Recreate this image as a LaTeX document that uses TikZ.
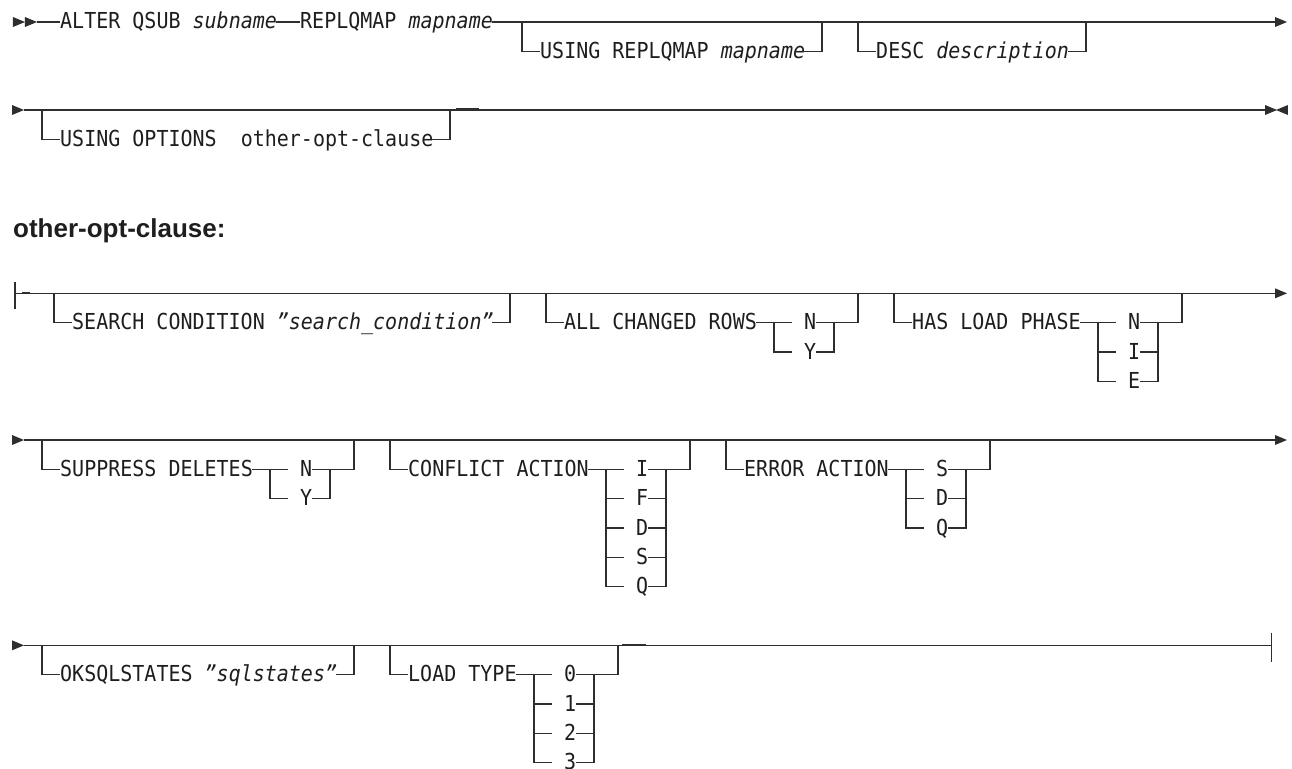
\documentclass[tikz,border=0pt]{standalone}
\usepackage{fontspec}
\setmainfont{DejaVu Sans Mono}[FakeStretch=0.909]
\setmonofont{DejaVu Sans Mono}[FakeStretch=0.909]
\newfontfamily\headfont{Liberation Sans}
\definecolor{lc}{HTML}{2E2E2E}
\definecolor{tc}{HTML}{1E1E1E}
% #1 = branch column, #2 = main row
\newcommand\optopen[2]{\draw[ln] (#1+.5,#2) -- (#1+.5,#2+1) -- (#1+2,#2+1);}
% #1 = text end column, #2 = closing column, #3 = main row
\newcommand\optclose[3]{\draw[ln] (#1,#3+1) -- (#2+.5,#3+1) -- (#2+.5,#3);}
% #1 = choice column, #2 = main row, #3 = alternatives
\newcommand\choicegrp[3]{%
  \draw[ln] (#1-1,#2+1) -- (#1+2,#2+1);
  \draw[ln] (#1+4,#2+1) -- (#1+7.5,#2+1) -- (#1+7.5,#2);
  \foreach \t [count=\i] in {#3} {%
    \node[txt] (alt-#1-\i) at (#1+3,#2+\i) {\t};
    \ifnum\i>1
      \draw[ln] (#1+.5,#2+\i-1) -- (#1+.5,#2+\i) -- (#1+2,#2+\i);
      \draw[ln] (#1+5.5,#2+\i-1) -- (#1+5.5,#2+\i) -- (#1+4,#2+\i);
    \fi
  }%
}
% right-pointing triangle: #1 = left x (col), #2 = row
\newcommand\rtri[2]{\fill[lc] (#1,#2) ++(0pt,5pt) -- ++(12pt,-5pt) -- ++(-12pt,-5pt) -- cycle;}
\newcommand\ltri[2]{\fill[lc] (#1,#2) ++(0pt,5pt) -- ++(-12pt,-5pt) -- ++(12pt,-5pt) -- cycle;}
\begin{document}
\begin{tikzpicture}[x=12pt, y=-29.3333pt,
  ln/.style={line width=1.1pt, draw=lc, line join=miter},
  txt/.style={anchor=base west, inner sep=0pt, text=tc,
    font=\fontsize{22}{26}\selectfont, yshift=-7pt}]
\useasboundingbox (0pt,0pt) rectangle (1292pt,-768pt);
\fill[white] (0pt,0pt) rectangle (1292pt,-768pt);

% ---------------- Row 1 ----------------
\def\r{0.75}
\rtri{1.08}{\r}\rtri{2.08}{\r}
\node[txt] (alter) at (5,\r) {ALTER QSUB \textit{subname}};
\node[txt] (replq) at (25,\r) {REPLQMAP \textit{mapname}};
\draw[ln] (3.08,\r) -- (5,\r);
\draw[ln] (23,\r) -- (25,\r);
\draw[ln] (41,\r) -- (106.25,\r);
\rtri{106.25}{\r}
\optopen{43}{\r}
\node[txt] (usingmap) at (45,\r+1) {USING REPLQMAP \textit{mapname}};
\optclose{67}{68}{\r}
\optopen{71}{\r}
\node[txt] (desc) at (73,\r+1) {DESC \textit{description}};
\optclose{89}{90}{\r}

% ---------------- Row 2 ----------------
\def\r{3.75}
\rtri{1}{\r}
\draw[ln] (2,\r) -- (105.42,\r);
\draw[line width=2pt, lc] (38,\r) ++(0pt,0.6pt) -- ++(23pt,0pt);
\rtri{105.42}{\r}\ltri{107.33}{\r}
\optopen{3}{\r}
\node[txt] (usingopt) at (5,\r+1) {USING OPTIONS\ \ other-opt-clause};
\optclose{36}{37}{\r}

% ---------------- Heading ----------------
\node[anchor=base west, inner sep=0pt, text=tc,
  font=\headfont\fontsize{26}{30}\selectfont\bfseries] (head) at (13pt,-237pt) {other-opt-clause:};

% ---------------- Row 3 ----------------
\def\r{10}
\draw[ln] (1.25,\r) ++(0pt,11pt) -- ++(0pt,-27pt);
\draw[ln] (1.25,\r) -- (106.25,\r);
\draw[line width=2pt, lc] (1.85,\r) ++(0pt,0.6pt) -- ++(8pt,0pt);
\rtri{106.25}{\r}
\optopen{4}{\r}
\node[txt] (search) at (6,\r+1) {SEARCH CONDITION \textit{"search\_condition"}};
\optclose{41}{42}{\r}
\optopen{45}{\r}
\node[txt] (allchg) at (47,\r+1) {ALL CHANGED ROWS};
\choicegrp{64}{\r}{N,Y}
\optopen{74}{\r}
\node[txt] (hasload) at (76,\r+1) {HAS LOAD PHASE};
\choicegrp{91}{\r}{N,I,E}

% ---------------- Row 4 ----------------
\def\r{15}
\rtri{1}{\r}
\draw[ln] (2,\r) -- (106.25,\r);
\rtri{106.25}{\r}
\optopen{3}{\r}
\node[txt] (suppress) at (5,\r+1) {SUPPRESS DELETES};
\choicegrp{22}{\r}{N,Y}
\optopen{32}{\r}
\node[txt] (conflict) at (34,\r+1) {CONFLICT ACTION};
\choicegrp{50}{\r}{I,F,D,S,Q}
\optopen{60}{\r}
\node[txt] (error) at (62,\r+1) {ERROR ACTION};
\choicegrp{75}{\r}{S,D,Q}

% ---------------- Row 5 ----------------
\def\r{22}
\rtri{1}{\r}
\draw[ln] (2,\r) -- (105.92,\r);
\draw[line width=2pt, lc] (51.85,\r) ++(0pt,0.6pt) -- ++(24pt,0pt);
\draw[ln] (105.92,\r) ++(0pt,12.7pt) -- ++(0pt,-29pt);
\optopen{3}{\r}
\node[txt] (oksql) at (5,\r+1) {OKSQLSTATES \textit{"sqlstates"}};
\optclose{28}{29}{\r}
\optopen{32}{\r}
\node[txt] (loadtype) at (34,\r+1) {LOAD TYPE};
\choicegrp{44}{\r}{0,1,2,3}
\end{tikzpicture}
\end{document}
